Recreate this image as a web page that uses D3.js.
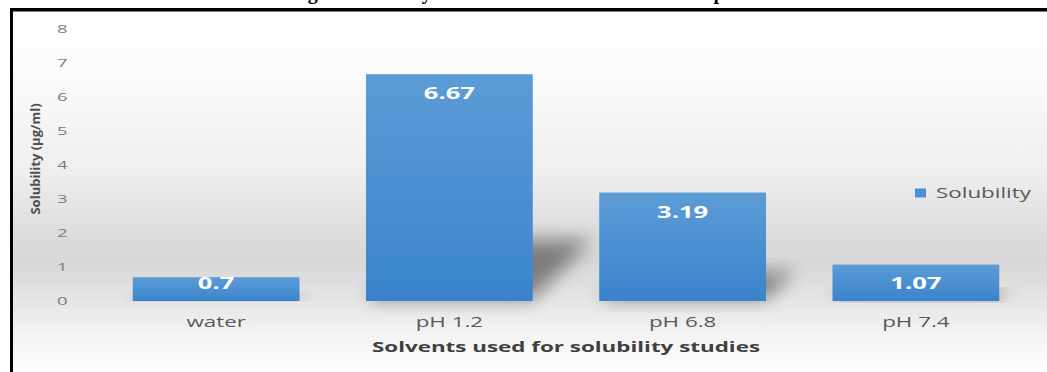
<!DOCTYPE html>
<html>
<head>
<meta charset="utf-8">
<script src="https://cdn.jsdelivr.net/npm/d3@7"></script>
<style>
  html, body { margin: 0; padding: 0; background: #fff; }
  svg { display: block; }
  text { font-family: "Open Sans", "DejaVu Sans", sans-serif; }
</style>
</head>
<body>
<svg id="chart" width="1047" height="372"></svg>
<script>
// Solubility of the drug in each medium (µg/ml)
const categories = ["water", "pH 1.2", "pH 6.8", "pH 7.4"];
const solubility = [0.7, 6.67, 3.19, 1.07];
const yTicks = [0, 1, 2, 3, 4, 5, 6, 7, 8];
const seriesName = "Solubility";
const xTitle = "Solvents used for solubility studies";
const yTitle = "Solubility (µg/ml)";
const figTitle = "Fig. 3: Solubility in standard solvents of different pH";

const W = 1047, H = 372;
const SX = 1.6;               // horizontal stretch of the chart lettering
const barTop = "#5c9cd6", barBottom = "#3a83cc";

const svg = d3.select("#chart");
const defs = svg.append("defs");

// chart-area backdrop: white at the top, grey band near the baseline, white again below
const bg = defs.append("linearGradient").attr("id", "bgGrad")
  .attr("gradientUnits", "userSpaceOnUse").attr("x1", 0).attr("x2", 0).attr("y1", 11).attr("y2", 372);
[[0, "#ffffff"], [0.2, "#fafafa"], [0.45, "#eeeeee"], [0.62, "#dcdcdc"], [0.7, "#d8d8d8"],
 [0.8, "#e5e5e5"], [0.9, "#f4f4f4"], [1, "#fdfdfd"]]
  .forEach(([o, c]) => bg.append("stop").attr("offset", o).attr("stop-color", c));

const bar = defs.append("linearGradient").attr("id", "barGrad")
  .attr("x1", 0).attr("x2", 0).attr("y1", 0).attr("y2", 1);
bar.append("stop").attr("offset", 0).attr("stop-color", barTop);
bar.append("stop").attr("offset", 1).attr("stop-color", barBottom);

defs.append("filter").attr("id", "soft")
  .attr("x", "-50%").attr("y", "-50%").attr("width", "200%").attr("height", "200%")
  .append("feGaussianBlur").attr("stdDeviation", 9);

// caption running above the frame (only its lower edge shows)
svg.append("text")
  .attr("x", 290).attr("y", -1)
  .style("font-family", "'Liberation Serif', 'Times New Roman', serif")
  .style("font-weight", "bold").style("font-size", "20px").attr("fill", "#000")
  .text(figTitle);

svg.append("rect").attr("x", 12).attr("y", 11).attr("width", W - 12).attr("height", H - 11)
  .attr("fill", "url(#bgGrad)");

// scales
const x = d3.scaleBand().domain(categories).range([99.5, 1032.5])
  .paddingInner(0.285).paddingOuter(0.1425);
const y = d3.scaleLinear().domain([0, 8]).range([301, 29]);

const data = categories.map((c, i) => ({ cat: c, v: solubility[i] }));

// perspective shadows cast behind each bar
svg.append("g").selectAll("path").data(data).join("path")
  .attr("d", d => {
    const x0 = x(d.cat), x1 = x0 + x.bandwidth();
    const h = y(0) - y(d.v), lift = h * 0.27, dx = h * 0.26;
    return `M${x0},${y(0) - 2}L${x1},${y(0) - 2}L${x1 + dx},${y(0) - lift}L${x0 + dx},${y(0) - lift}Z`;
  })
  .attr("fill", "#111").attr("opacity", 0.45).attr("filter", "url(#soft)");

// bars
svg.append("g").selectAll("rect").data(data).join("rect")
  .attr("x", d => x(d.cat)).attr("width", x.bandwidth())
  .attr("y", d => y(d.v)).attr("height", d => y(0) - y(d.v))
  .attr("fill", "url(#barGrad)");

// value labels just inside the bar tops
svg.append("g").selectAll("text").data(data).join("text")
  .attr("transform", d => `translate(${x(d.cat) + x.bandwidth() / 2},${Math.min(y(d.v) + 25, y(0) - 12)}) scale(${SX},1)`)
  .attr("text-anchor", "middle").attr("fill", "#fff")
  .style("font-weight", "bold").style("font-size", "16px")
  .text(d => d.v);

// y axis
const yAxis = svg.append("g").attr("transform", "translate(67.5,0)")
  .call(d3.axisLeft(y).tickValues(yTicks).tickSize(0).tickPadding(0).tickFormat(d3.format("d")));
yAxis.select(".domain").remove();
yAxis.selectAll("text")
  .attr("x", 0).attr("transform", `scale(${SX},1)`)
  .attr("fill", "#7a7a7a").style("font-size", "11.5px").style("font-family", "'Open Sans', sans-serif");

// x axis
const xAxis = svg.append("g").attr("transform", `translate(0,${y(0)})`)
  .call(d3.axisBottom(x).tickSize(0).tickPadding(16));
xAxis.select(".domain").remove();
xAxis.selectAll("text")
  .attr("transform", `scale(${SX},1)`)
  .attr("fill", "#595959").style("font-size", "14px").style("font-family", "'Open Sans', sans-serif");

// axis titles
svg.append("text")
  .attr("transform", `translate(566,351.5) scale(${SX},1)`)
  .attr("text-anchor", "middle").attr("fill", "#404040")
  .style("font-weight", "bold").style("font-size", "14px")
  .text(xTitle);

svg.append("text")
  .attr("transform", "translate(39.5,159) rotate(-90)")
  .attr("text-anchor", "middle").attr("fill", "#505050")
  .style("font-weight", "bold").style("font-size", "13px")
  .text(yTitle);

// legend
const lg = svg.append("g").attr("transform", "translate(915,193)");
lg.append("rect").attr("x", 0).attr("y", -4.5).attr("width", 11).attr("height", 9).attr("fill", "#4a90d4");
lg.append("text").attr("transform", `translate(21,5) scale(${SX},1)`)
  .attr("fill", "#595959").style("font-size", "14px").text(seriesName);

// frame around the figure
svg.append("rect").attr("x", 10).attr("y", 8).attr("width", W - 10).attr("height", 3.5).attr("fill", "#000");
svg.append("rect").attr("x", 10).attr("y", 8).attr("width", 3).attr("height", H - 8).attr("fill", "#000");
</script>
</body>
</html>
